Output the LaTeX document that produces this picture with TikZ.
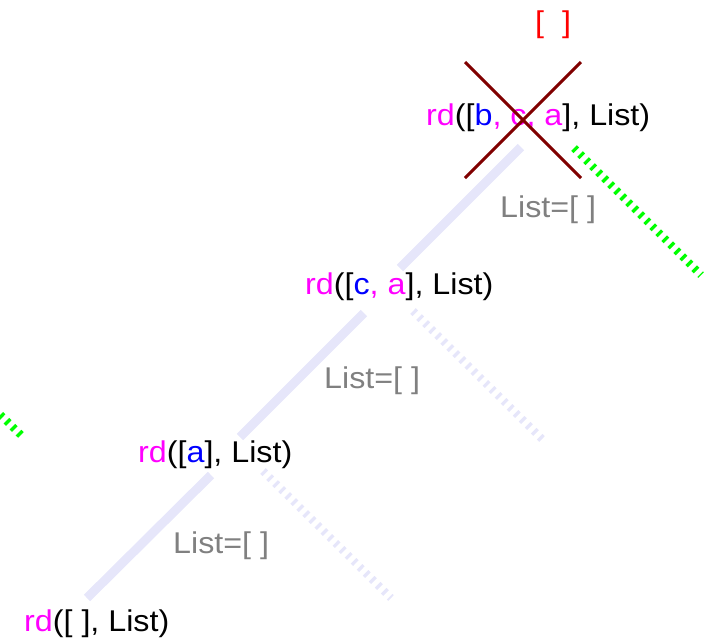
\documentclass[tikz,border=0pt]{standalone}
\usepackage{fontspec}
\setmainfont{Liberation Sans}[FakeStretch=1.075]
\definecolor{cmag}{RGB}{255,0,255}
\definecolor{cblu}{RGB}{0,0,255}
\definecolor{cgry}{RGB}{128,128,128}
\definecolor{cred}{RGB}{255,0,0}
\definecolor{cmaroon}{RGB}{128,0,0}
\definecolor{clav}{RGB}{230,230,250}
\definecolor{cgrn}{RGB}{0,255,0}
\tikzset{
  txt/.style={anchor=base west, inner sep=0pt, font=\fontsize{30}{36}\selectfont},
  graytxt/.style={txt, text=cgry},
  solidlink/.style={draw=clav, line width=9pt, line cap=butt},
  lavdash/.style={draw=clav, line width=8pt, dash pattern=on 3.3pt off 5.2pt},
  grndash/.style={draw=cgrn, line width=8pt, dash pattern=on 3.3pt off 5.2pt},
  crossline/.style={draw=cmaroon, line width=3pt},
}
\begin{document}
\begin{tikzpicture}[x=1pt,y=-1pt]
\useasboundingbox (0,0) rectangle (713,641);
\clip (0,0) rectangle (713,641);
% connector endpoints
\coordinate (s1a) at (521,147);
\coordinate (s1b) at (400,268);
\coordinate (s2a) at (364,313);
\coordinate (s2b) at (240,437);
\coordinate (s3a) at (211,475);
\coordinate (s3b) at (87,598);
\coordinate (d1a) at (413,311);
\coordinate (d1b) at (542,439);
\coordinate (d2a) at (263,471);
\coordinate (d2b) at (391,598);
\coordinate (g1a) at (574,148);
\coordinate (g1b) at (701,275);
\coordinate (g2a) at (-30,385);
\coordinate (g2b) at (24,438);
\coordinate (x1a) at (465,62);
\coordinate (x1b) at (581,178);
\coordinate (x2a) at (581,62);
\coordinate (x2b) at (465,178);
% lines
\draw[solidlink] (s1a) -- (s1b);
\draw[solidlink] (s2a) -- (s2b);
\draw[solidlink] (s3a) -- (s3b);
\draw[lavdash] (d1a) -- (d1b);
\draw[lavdash] (d2a) -- (d2b);
\draw[grndash] (g1a) -- (g1b);
\draw[grndash] (g2a) -- (g2b);
% texts
\node[txt, text=cred] (empty) at (535,32) {[ \hspace{9pt}]};
\node[txt] (bca) at (426,125) {\textcolor{cmag}{rd}([\textcolor{cblu}{b}\textcolor{cmag}{, c, a}], List)};
\node[graytxt] (l1) at (500,217) {List=[ ]};
\node[txt] (ca) at (305,294) {\textcolor{cmag}{rd}([\textcolor{cblu}{c}\textcolor{cmag}{, a}], List)};
\node[graytxt] (l2) at (324,388) {List=[ ]};
\node[txt] (a) at (138,462) {\textcolor{cmag}{rd}([\textcolor{cblu}{a}], List)};
\node[graytxt] (l3) at (173,553) {List=[ ]};
\node[txt] (e) at (24,631) {\textcolor{cmag}{rd}([ ], List)};
% cross
\draw[crossline] (x1a) -- (x1b);
\draw[crossline] (x2a) -- (x2b);
\end{tikzpicture}
\end{document}
